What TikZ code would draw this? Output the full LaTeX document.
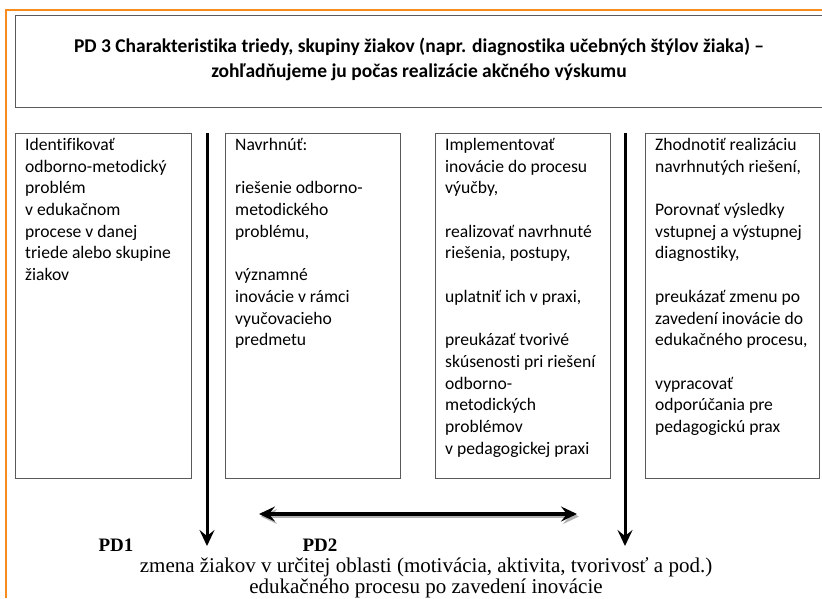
\documentclass[tikz,border=0pt]{standalone}
\usepackage{fontspec}
\setmainfont{Liberation Serif}
\newfontfamily\calib[Ligatures=CommonOff]{Carlito}
\usetikzlibrary{arrows.meta}
\definecolor{frameorange}{RGB}{247,140,30}
\definecolor{boxgray}{RGB}{90,90,90}
\tikzset{
  x=1pt,y=-1pt,
  colbox/.style={draw=boxgray,line width=0.9pt},
  coltext/.style={anchor=north west,align=left,inner sep=0pt,font=\calib\fontsize{17.6}{21.7}\selectfont},
  bigarrow/.style={line width=3pt,-{Stealth[length=16pt,width=15pt,inset=6pt]}},
  dblarrow/.style={line width=3.4pt,{Stealth[length=16pt,width=15pt,inset=6pt]}-{Stealth[length=16pt,width=15pt,inset=6pt]}},
  shadowarrow/.style={line width=3.4pt,black!30,{Stealth[length=16pt,width=15pt,inset=6pt]}-{Stealth[length=16pt,width=15pt,inset=6pt]}},
  pdlabel/.style={font=\bfseries\fontsize{19}{21}\selectfont,inner sep=0pt},
}
\begin{document}
\begin{tikzpicture}
\useasboundingbox[fill=white] (0,0) rectangle (822,598);
% orange frame
\draw[frameorange,line width=2.6pt] (6,598) -- (6,10) -- (822,10);
% top box
\draw[colbox] (829,15) -- (15,15) -- (15,107) -- (829,107);
\node[align=center,inner sep=0pt,font=\calib\bfseries\fontsize{19.5}{25}\selectfont] (title) at (419,59)
  {PD 3 Charakteristika triedy, skupiny žiakov (napr. diagnostika učebných štýlov žiaka) –\\
   zohľadňujeme ju počas realizácie akčného výskumu};
% column boxes
\node[colbox,minimum width=176pt,minimum height=345pt,anchor=north west,inner sep=0pt] (b1) at (15,133) {};
\node[colbox,minimum width=175pt,minimum height=345pt,anchor=north west,inner sep=0pt] (b2) at (225,133) {};
\node[colbox,minimum width=175pt,minimum height=345pt,anchor=north west,inner sep=0pt] (b3) at (435,133) {};
\node[colbox,minimum width=174pt,minimum height=345pt,anchor=north west,inner sep=0pt] (b4) at (645,133) {};
\node[coltext] (t1) at (25,138) {Identifikovať\\odborno-metodický\\problém\\v edukačnom\\procese v danej\\triede alebo skupine\\žiakov};
\node[coltext] (t2) at (235,138) {Navrhnúť:\\[21.7pt]riešenie odborno-\\metodického\\problému,\\[21.7pt]významné\\inovácie v rámci\\vyučovacieho\\predmetu};
\node[coltext] (t3) at (445,138) {Implementovať\\inovácie do procesu\\výučby,\\[21.7pt]realizovať navrhnuté\\riešenia, postupy,\\[21.7pt]uplatniť ich v praxi,\\[21.7pt]preukázať tvorivé\\skúsenosti pri riešení\\odborno-\\metodických\\problémov\\v pedagogickej praxi};
\node[coltext] (t4) at (655,138) {Zhodnotiť realizáciu\\navrhnutých riešení,\\[21.7pt]Porovnať výsledky\\vstupnej a výstupnej\\diagnostiky,\\[21.7pt]preukázať zmenu po\\zavedení inovácie do\\edukačného procesu,\\[21.7pt]vypracovať\\odporúčania pre\\pedagogickú prax};
% arrows
\coordinate (a1s) at (207,133);
\coordinate (a1e) at (207,546);
\coordinate (a2s) at (625,133);
\coordinate (a2e) at (625,546);
\draw[bigarrow] (a1s) -- (a1e);
\draw[bigarrow] (a2s) -- (a2e);
\coordinate (dl) at (259,514);
\coordinate (dr) at (577,514);
\draw[shadowarrow] ([shift={(2,2.5)}]dl) -- ([shift={(2,2.5)}]dr);
\draw[dblarrow] (dl) -- (dr);
\node[pdlabel] (pd1) at (116,545) {PD1};
\node[pdlabel] (pd2) at (320,545) {PD2};
\node[align=center,inner sep=0pt,font=\fontsize{21}{21.5}\selectfont] (res) at (426,578)
  {zmena žiakov v určitej oblasti (motivácia, aktivita, tvorivosť a pod.)\\
   edukačného procesu po zavedení inovácie};
\end{tikzpicture}
\end{document}
